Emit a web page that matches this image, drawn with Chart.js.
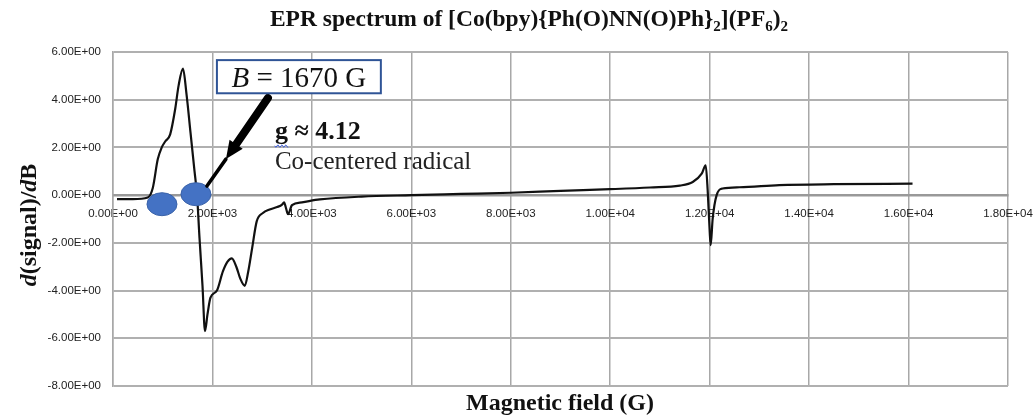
<!DOCTYPE html>
<html>
<head>
<meta charset="utf-8">
<script src="https://cdn.jsdelivr.net/npm/chart.js@4.4.0/dist/chart.umd.min.js"></script>
<style>
  html, body { margin: 0; background: #fff; }
  #wrap { width: 1034px; height: 417px; position: relative; }
</style>
</head>
<body>
<div id="wrap"><canvas id="epr"></canvas></div>
<script>
// spectrum (field in G, derivative signal)
const fieldG = [80, 400, 700, 800, 900, 980, 1050, 1150, 1250, 1320, 1407, 1480, 1560, 1640, 1690,
  1740, 1800, 1850, 1900, 1960, 2090, 2210, 2300, 2390, 2480, 2560, 2650, 2720, 2800, 2890,
  3015, 3150, 3300, 3400, 3440, 3480, 3520, 3600, 3800, 4160, 5000, 6000, 7000, 8000, 9000,
  10000, 10800, 11400, 11660, 11840, 11920, 11960, 12000, 12020, 12060, 12140, 12260, 12600,
  13400, 14500, 16080]
const signal = [-0.17, -0.17, -0.1, 0.3, 1.5, 2.0, 2.25, 2.55, 3.6, 4.6, 5.3, 4.2, 2.6, 1.0, 0.0,
  -1.8, -3.8, -5.7, -5.0, -4.3, -4.0, -3.2, -2.8, -2.65, -3.0, -3.5, -3.8, -3.2, -2.2, -1.1,
  -0.75, -0.6, -0.5, -0.4, -0.3, -0.55, -0.8, -0.42, -0.3, -0.18, -0.06, 0.0, 0.05, 0.1, 0.18,
  0.25, 0.32, 0.4, 0.55, 0.9, 1.25, 0.2, -1.5, -2.1, -1.0, 0.0, 0.28, 0.33,
  0.42, 0.46, 0.48]

const xRange = [0, 18000]
const yRange = [-8, 6]
const xStep = 2000
const yStep = 2

// annotation anchors, in data units
const markers = [[985, -0.38], [1668, 0.04]]
const labelBox = [2090, 5.66, 5387, 4.27]
const arrowPath = [[3116, 4.07], [2271, 1.51], [1889, 0.38]]
const gNote = [3256, 2.35]
const radicalNote = [3256, 1.09]

const sci = (v) => {
  if (v === 0) return '0.00E+00'
  const e = Math.floor(Math.log10(Math.abs(v)) + 1e-9)
  const m = v / Math.pow(10, e)
  return m.toFixed(2) + 'E' + (e < 0 ? '-' : '+') + String(Math.abs(e)).padStart(2, '0')
}

const serif = '"Liberation Serif", "Times New Roman", serif'

function rich(ctx, parts, x, y, align) {
  let w = 0
  parts.forEach(p => { ctx.font = p[1]; w += ctx.measureText(p[0]).width })
  let cx = align === 'center' ? x - w / 2 : x
  parts.forEach(p => {
    ctx.font = p[1]
    ctx.fillText(p[0], cx, y + (p[2] || 0))
    cx += ctx.measureText(p[0]).width
  })
}

const notes = {
  id: 'notes',
  afterDatasetsDraw(chart) {
    const ctx = chart.ctx
    const xs = chart.scales.x, ys = chart.scales.y
    const px = v => xs.getPixelForValue(v)
    const py = v => ys.getPixelForValue(v)
    ctx.save()

    // blue markers on the zero crossings
    markers.forEach(m => {
      ctx.beginPath()
      ctx.ellipse(px(m[0]), py(m[1]), 15, 11.5, 0, 0, Math.PI * 2)
      ctx.fillStyle = '#4472C4'
      ctx.fill()
      ctx.strokeStyle = '#3A62A8'
      ctx.lineWidth = 1
      ctx.stroke()
    })

    // arrow from the label box to the marker
    const a0 = [px(arrowPath[0][0]), py(arrowPath[0][1])]
    const a1 = [px(arrowPath[1][0]), py(arrowPath[1][1])]
    const a2 = [px(arrowPath[2][0]), py(arrowPath[2][1])]
    const ang = Math.atan2(a1[1] - a0[1], a1[0] - a0[0])
    const back = [a1[0] - Math.cos(ang) * 18, a1[1] - Math.sin(ang) * 18]
    ctx.strokeStyle = '#000'
    ctx.fillStyle = '#000'
    ctx.lineCap = 'round'
    ctx.lineWidth = 8
    ctx.beginPath(); ctx.moveTo(a0[0], a0[1]); ctx.lineTo(back[0], back[1]); ctx.stroke()
    ctx.beginPath()
    ctx.moveTo(a1[0], a1[1])
    ctx.lineTo(back[0] + Math.sin(ang) * 8, back[1] - Math.cos(ang) * 8)
    ctx.lineTo(back[0] - Math.sin(ang) * 8, back[1] + Math.cos(ang) * 8)
    ctx.closePath(); ctx.fill()
    ctx.lineWidth = 3.5
    ctx.beginPath(); ctx.moveTo(a1[0], a1[1]); ctx.lineTo(a2[0], a2[1]); ctx.stroke()

    // label box
    const bx = px(labelBox[0]), by = py(labelBox[1])
    const bw = px(labelBox[2]) - bx, bh = py(labelBox[3]) - by
    ctx.fillStyle = '#fff'
    ctx.fillRect(bx, by, bw, bh)
    ctx.strokeStyle = '#2F5496'
    ctx.lineWidth = 2
    ctx.strokeRect(bx, by, bw, bh)
    ctx.fillStyle = '#111'
    ctx.textAlign = 'left'
    ctx.textBaseline = 'alphabetic'
    rich(ctx, [['B', 'italic 29px ' + serif], [' = 1670 G', '29px ' + serif]], bx + bw / 2, by + bh - 6, 'center')

    // g value and description
    const gx = px(gNote[0]), gy = py(gNote[1])
    rich(ctx, [['g', 'bold 26px ' + serif], [' \u2248 4.12', 'bold 26px ' + serif]], gx, gy)
    ctx.font = 'bold 26px ' + serif
    const gw = ctx.measureText('g').width
    ctx.strokeStyle = '#3B5BDB'
    ctx.lineWidth = 1
    ctx.beginPath()
    for (let i = 0; i <= gw; i += 1) {
      const yy = gy + 7 + Math.sin(i * 1.6) * 1.2
      i === 0 ? ctx.moveTo(gx + i, yy) : ctx.lineTo(gx + i, yy)
    }
    ctx.stroke()
    ctx.fillStyle = '#222'
    ctx.font = '25px ' + serif
    ctx.fillText('Co-centered radical', px(radicalNote[0]), py(radicalNote[1]))
    ctx.restore()
  },
  afterDraw(chart) {
    const ctx = chart.ctx
    ctx.save()
    ctx.fillStyle = '#111'
    ctx.textAlign = 'left'
    ctx.textBaseline = 'alphabetic'
    const tb = 'bold 23.5px ' + serif, ts = 'bold 15px ' + serif
    rich(ctx, [['EPR spectrum of [Co(bpy){Ph(O)NN(O)Ph}', tb], ['2', ts, 5], ['](PF', tb], ['6', ts, 5], [')', tb], ['2', ts, 5]], 529, 26, 'center')
    rich(ctx, [['Magnetic field (G)', 'bold 24px ' + serif]], 560, 410, 'center')

    ctx.translate(36, 225)
    ctx.rotate(-Math.PI / 2)
    const yb = 'bold 24px ' + serif, yi = 'bold italic 24px ' + serif
    rich(ctx, [['d', yi], ['(signal)/', yb], ['d', yi], ['B', yb]], 0, 0, 'center')
    ctx.restore()
  }
}

new Chart(document.getElementById('epr'), {
  type: 'line',
  data: {
    datasets: [{
      data: fieldG.map((g, i) => ({ x: g, y: signal[i] })),
      borderColor: '#111',
      borderWidth: 2.2,
      pointRadius: 0,
      cubicInterpolationMode: 'monotone',
      fill: false
    }]
  },
  options: {
    responsive: true,
    maintainAspectRatio: false,
    animation: false,
    layout: { padding: { top: 52, right: 26, bottom: 31, left: 0 } },
    plugins: { legend: { display: false }, title: { display: false }, tooltip: { enabled: false } },
    scales: {
      x: {
        type: 'linear',
        position: { y: 0 },
        min: xRange[0], max: xRange[1],
        afterFit: (s) => { s.paddingLeft = 0; s.paddingRight = 0 },
        ticks: { stepSize: xStep, callback: sci, color: '#222', padding: 12, maxRotation: 0,
          font: { family: '"Liberation Sans", Arial, sans-serif', size: 11.5 } },
        grid: { color: '#a8a8a8', lineWidth: 1.5, drawTicks: false },
        border: { display: true, color: '#999', width: 2.5 }
      },
      y: {
        min: yRange[0], max: yRange[1],
        afterFit: (s) => { s.width = 113 },
        ticks: { stepSize: yStep, callback: sci, color: '#222', padding: 12,
          font: { family: '"Liberation Sans", Arial, sans-serif', size: 11.5 } },
        grid: { color: '#b0b0b0', lineWidth: 2, drawTicks: false },
        border: { display: true, color: '#a8a8a8', width: 1.5 }
      }
    }
  },
  plugins: [notes]
})
</script>
</body>
</html>
